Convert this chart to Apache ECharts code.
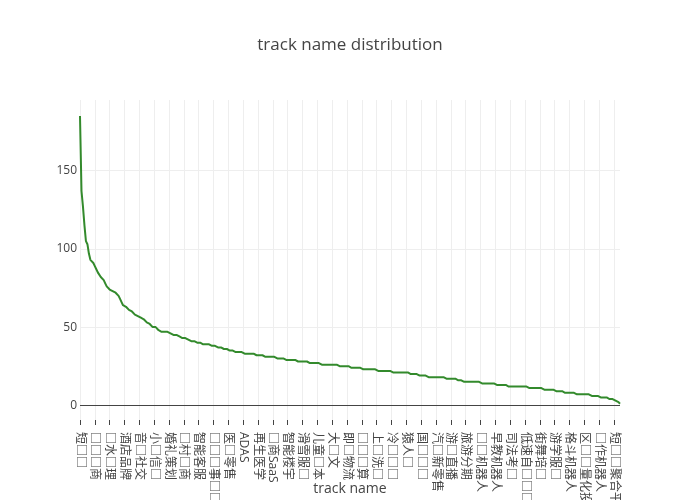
<!DOCTYPE html>
<html>
<head>
<meta charset="utf-8">
<script src="https://cdn.jsdelivr.net/npm/echarts@6/dist/echarts.min.js"></script>
<style>
  html, body { margin: 0; padding: 0; background: #fff; }
  #chart { width: 700px; height: 500px; }
</style>
</head>
<body>
<div id="chart"></div>
<script>
// Tick labels shown on the x axis (one every 10 categories)
var tickLabels = ['短□□','□□□商','□水□理','酒店品牌','音□社交','小□信□','婚礼策划','□村□商','智能客服','□□□事□□',
  '医□零售','ADAS','再生医学','□商SaaS','智能楼宇','滑雪服□','儿童□本','大□文','即□物流','□□□算',
  '上□洗□','冷□□□','猿人□','国□□□','汽□新零售','游□直播','旅游分期','□□机器人','早教机器人','司法考□',
  '低速自□□□','街舞培□','游学服□','格斗机器人','区□□量化投□','□作机器人','短□□聚合平台'];

// Count per track name, in descending order (365 categories)
var counts = [185,137,127,115,105,103,97,93,92,91,
  89,87,85,84,82,81,80,78,76,75,
  74,73,73,72,72,71,70,68,66,64,
  63,63,62,61,61,60,59,58,58,57,
  57,56,55,55,54,53,52,52,51,50,
  50,50,49,48,47,47,47,47,47,47,
  46,46,45,45,45,45,44,44,44,43,
  43,43,42,42,42,41,41,41,40,40,
  40,40,39,39,39,39,39,39,39,38,
  38,38,37,37,37,37,36,36,36,36,
  35,35,35,35,35,34,34,34,34,34,
  34,33,33,33,33,33,33,33,32,32,
  32,32,32,32,32,31,31,31,31,31,
  31,31,31,30,30,30,30,30,29,29,
  29,29,29,29,29,29,29,28,28,28,
  28,28,28,28,27,27,27,27,27,27,
  27,27,26,26,26,26,26,26,26,26,
  26,26,26,26,26,25,25,25,25,25,
  25,25,24,24,24,24,24,24,24,24,
  23,23,23,23,23,23,23,23,23,23,
  23,22,22,22,22,22,22,22,22,22,
  22,21,21,21,21,21,21,21,21,21,
  21,21,21,20,20,20,20,20,20,19,
  19,19,19,19,19,18,18,18,18,18,
  18,18,18,18,18,18,17,17,17,17,
  17,17,17,17,17,16,16,16,15,15,
  15,15,15,15,15,15,15,15,15,15,
  14,14,14,14,14,14,14,14,14,14,
  13,13,13,13,13,13,13,13,13,12,
  12,12,12,12,12,12,12,12,12,12,
  12,12,11,11,11,11,11,11,11,11,
  11,11,11,10,10,10,10,10,10,10,
  9,9,9,9,9,9,8,8,8,8,
  8,8,8,8,8,7,7,7,7,7,
  7,7,7,7,6,6,6,6,6,6,
  6,5,5,5,5,5,4,4,4,4,
  3,3,2,2,1];

var yTicks = [0, 50, 100, 150];
var labelStep = 10;

// Category names: labelled ones every 10th, the rest unnamed
var categories = counts.map(function (v, i) {
  return (i % labelStep === 0 && tickLabels[i / labelStep] !== undefined) ? tickLabels[i / labelStep] : '';
});

var font = "'Open Sans', 'Noto Sans CJK SC', 'DejaVu Sans', sans-serif";
var lineColor = '#338a2c';
var chart = echarts.init(document.getElementById('chart'), null, { renderer: 'canvas' });
chart.setOption({
  animation: false,
  backgroundColor: '#fff',
  title: {
    text: 'track name distribution',
    left: 'center',
    top: 32,
    textStyle: { fontFamily: font, fontSize: 17, fontWeight: 'normal', color: '#444' }
  },
  grid: { left: 80, right: 80, top: 100, bottom: 80, containLabel: false, outerBoundsMode: 'none' },
  xAxis: {
    type: 'category',
    data: categories,
    boundaryGap: false,
    name: 'track name',
    nameLocation: 'middle',
    nameGap: 62,
    nameMoveOverlap: false,
    nameTextStyle: { fontFamily: font, fontSize: 14, color: '#444' },
    axisLine: { show: false, onZero: false },
    axisTick: { show: true, interval: labelStep - 1, length: 5, lineStyle: { color: '#444', width: 1 } },
    axisLabel: {
      interval: labelStep - 1, rotate: -90, margin: 12,
      fontFamily: font, fontSize: 12, color: '#444', hideOverlap: false
    },
    splitLine: { show: true, interval: labelStep - 1, lineStyle: { color: '#eee', width: 1 } }
  },
  yAxis: {
    type: 'value',
    min: -9.4,
    max: 195.2,
    axisLine: { show: false },
    axisTick: { show: false, customValues: yTicks },
    axisLabel: { customValues: yTicks, margin: 3, fontFamily: font, fontSize: 12, color: '#444' },
    splitLine: { show: true, lineStyle: { color: '#eee', width: 1 } }
  },
  series: [{
    type: 'line',
    data: counts,
    showSymbol: false,
    symbol: 'none',
    lineStyle: { color: lineColor, width: 2 },
    itemStyle: { color: lineColor },
    markLine: {
      silent: true,
      symbol: 'none',
      label: { show: false },
      lineStyle: { color: '#444', width: 1, type: 'solid' },
      data: [{ yAxis: 0 }]
    },
    z: 3
  }]
});
</script>
</body>
</html>
